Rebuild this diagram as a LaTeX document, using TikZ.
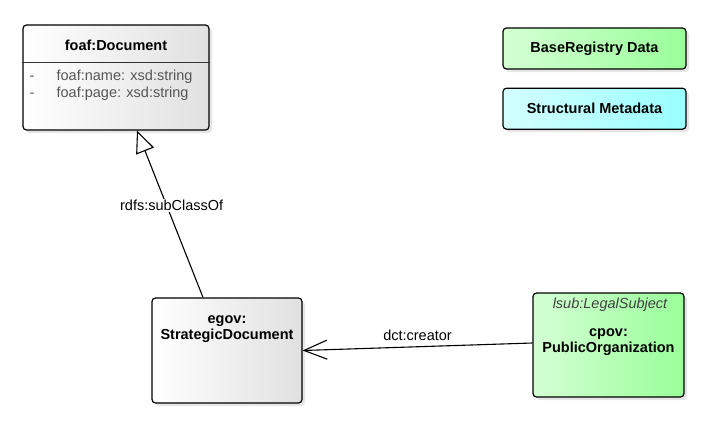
\documentclass[tikz,border=0pt]{standalone}
\usepackage{fontspec}
\setmainfont{Liberation Sans}
\usetikzlibrary{positioning,shadows,arrows.meta}

\definecolor{greenL}{HTML}{D4FFD4}
\definecolor{greenR}{HTML}{99FF99}
\definecolor{cyanL}{HTML}{D4FFFF}
\definecolor{cyanR}{HTML}{99FFFF}
\definecolor{attrgray}{HTML}{555555}

\begin{document}
\begin{tikzpicture}[x=1pt, y=-1pt, node distance=18pt, line width=1.2pt,
  every node/.style={font=\fontsize{14.5}{16.5}\selectfont, inner sep=0pt},
  box/.style={draw, rounded corners=3.5pt, drop shadow={opacity=0.2, shadow xshift=3pt, shadow yshift=-3pt}},
  classbox/.style={box, left color=white, right color=black!12},
  basebox/.style={box, left color=greenL, right color=greenR},
  metabox/.style={box, left color=cyanL, right color=cyanR},
  title/.style={font=\fontsize{14.5}{16.5}\selectfont\bfseries, align=center},
  attr/.style={text=attrgray, anchor=west},
  stereo/.style={text=black!75, font=\fontsize{14.5}{16.5}\selectfont\itshape},
  lbl/.style={fill=white, inner sep=1.5pt}]

\useasboundingbox (0,0) rectangle (720,429);

% legend
\node[basebox, title, minimum width=183pt, minimum height=41pt] (base) at (594.5,48.5) {BaseRegistry Data};
\node[metabox, title, minimum width=183pt, minimum height=41pt] (meta) [below=of base] {Structural Metadata};

% classes
\node[classbox, minimum width=186pt, minimum height=105pt] (doc) at (116,77.5) {};
\node[title] (doc-name) at (116,45) {foaf:Document};
\draw[line width=0.7pt, black!80] (doc.west |- 0,62) -- (doc.east |- 0,62);
\node[attr] (doc-a1) at (29,77) {\makebox[27pt][l]{-}foaf:name: xsd:string};
\node[attr] (doc-a2) at (29,94) {\makebox[27pt][l]{-}foaf:page: xsd:string};

\node[classbox, minimum width=150pt, minimum height=105pt] (strat) at (227,350.5) {};
\node[title] (strat-name) at (227,329) {egov:\\StrategicDocument};

\node[basebox, minimum width=151pt, minimum height=104pt] (pubo) at (608.5,345) {};
\node[stereo] (pubo-st) at (610,305) {lsub:LegalSubject};
\node[title] (pubo-name) at (608.5,342) {cpov:\\PublicOrganization};

% relations
\path[line width=1.1pt]
      ([xshift=-24pt]strat.north) edge [-{Triangle[open, fill=white, length=22pt, width=19pt]}]
            node [lbl, pos=.55, xshift=5pt] {rdfs:subClassOf} ([xshift=21pt]doc.south)
      ([yshift=2pt]pubo.west) edge [-{Straight Barb[length=23pt, width=19pt]}]
            node [lbl, pos=.5, above=4pt, fill=none] {dct:creator} (strat.east);
\end{tikzpicture}
\end{document}
